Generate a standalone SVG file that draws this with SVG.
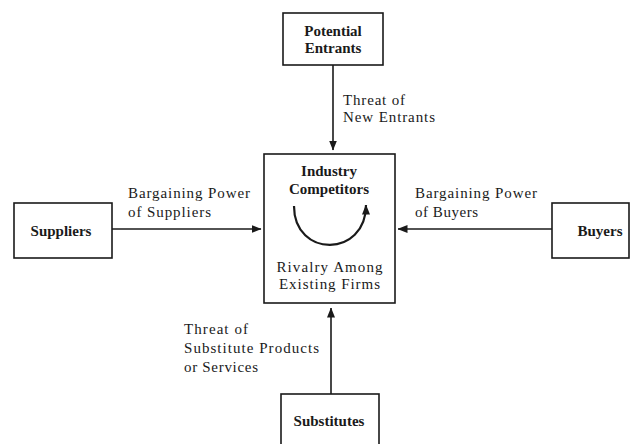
<svg xmlns="http://www.w3.org/2000/svg" width="635" height="444" viewBox="0 0 635 444">
<style>
.box{fill:#fff;stroke:#1a1a1a;stroke-width:1.6}
.b{font-family:"Liberation Serif","Times New Roman",serif;font-weight:bold;font-size:15px;fill:#1a1a1a;text-anchor:middle}
.t{font-family:"Liberation Serif","Times New Roman",serif;font-size:15px;fill:#1a1a1a}
.c{text-anchor:middle}
.ln{stroke:#1a1a1a;stroke-width:1.6;fill:none}
</style>
<defs>
<marker id="ah" viewBox="0 0 10 8" refX="9.5" refY="4" markerWidth="10" markerHeight="8" markerUnits="userSpaceOnUse" orient="auto">
<path d="M0,0 L10,4 L0,8 Z" fill="#1a1a1a"/>
</marker>
</defs>
<rect width="635" height="444" fill="#fff"/>
<g id="connectors">
<line class="ln" x1="333" y1="65" x2="333" y2="150" marker-end="url(#ah)"/>
<line class="ln" x1="112" y1="229" x2="261" y2="229" marker-end="url(#ah)"/>
<line class="ln" x1="552" y1="229" x2="398" y2="229" marker-end="url(#ah)"/>
<line class="ln" x1="331" y1="394" x2="331" y2="308" marker-end="url(#ah)"/>
<text class="t" x="343" y="105" textLength="62" lengthAdjust="spacing">Threat of</text>
<text class="t" x="343" y="122" textLength="92" lengthAdjust="spacing">New Entrants</text>
<text class="t" x="128" y="198" textLength="122" lengthAdjust="spacing">Bargaining Power</text>
<text class="t" x="128" y="217" textLength="83" lengthAdjust="spacing">of Suppliers</text>
<text class="t" x="415" y="198" textLength="122" lengthAdjust="spacing">Bargaining Power</text>
<text class="t" x="415" y="217" textLength="63" lengthAdjust="spacing">of Buyers</text>
<text class="t" x="184" y="334" textLength="64" lengthAdjust="spacing">Threat of</text>
<text class="t" x="184" y="353" textLength="135" lengthAdjust="spacing">Substitute Products</text>
<text class="t" x="184" y="372" textLength="74" lengthAdjust="spacing">or Services</text>
</g>
<g id="potential-entrants">
<rect class="box" x="283" y="13" width="100" height="52"/>
<text class="b" x="333" y="36">Potential</text>
<text class="b" x="333" y="53">Entrants</text>
</g>
<g id="industry-competitors">
<rect class="box" x="264" y="154" width="131" height="149"/>
<text class="b" x="329" y="176">Industry</text>
<text class="b" x="329" y="194">Competitors</text>
<path d="M294,206 C294,258 366,258 366,205" stroke="#1a1a1a" stroke-width="2.2" fill="none" marker-end="url(#ah)"/>
<text class="t c" x="329.5" y="272" textLength="106" lengthAdjust="spacing">Rivalry Among</text>
<text class="t c" x="329.5" y="289" textLength="101" lengthAdjust="spacing">Existing Firms</text>
</g>
<g id="suppliers">
<rect class="box" x="14" y="203" width="98" height="55"/>
<text class="b" x="61" y="236">Suppliers</text>
</g>
<g id="buyers">
<rect class="box" x="552" y="203" width="77" height="55"/>
<text class="b" x="600" y="236">Buyers</text>
</g>
<g id="substitutes">
<rect class="box" x="281" y="394" width="98" height="60"/>
<text class="b" x="329" y="426">Substitutes</text>
</g>
</svg>
